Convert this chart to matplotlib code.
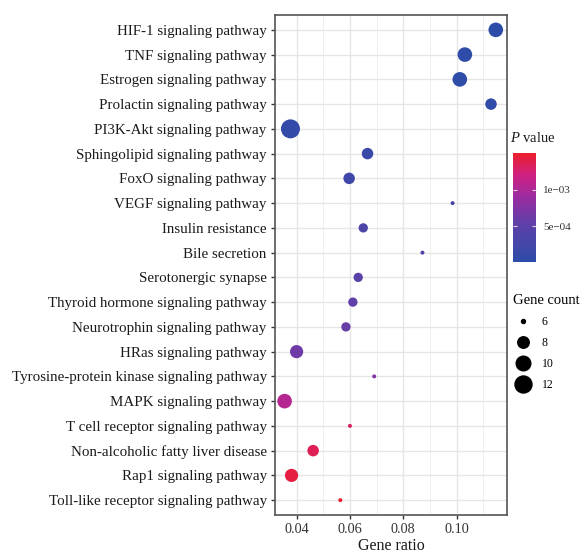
import numpy as np
import matplotlib.pyplot as plt
from matplotlib.colors import LinearSegmentedColormap, Normalize
from matplotlib.lines import Line2D
from matplotlib.ticker import FixedLocator

plt.rcParams['font.family'] = ['Liberation Serif', 'DejaVu Serif']
plt.rcParams['mathtext.fontset'] = 'custom'
plt.rcParams['mathtext.rm'] = 'Liberation Serif'
plt.rcParams['mathtext.it'] = 'Liberation Serif:italic'

pathways = [
    "HIF-1 signaling pathway",
    "TNF signaling pathway",
    "Estrogen signaling pathway",
    "Prolactin signaling pathway",
    "PI3K-Akt signaling pathway",
    "Sphingolipid signaling pathway",
    "FoxO signaling pathway",
    "VEGF signaling pathway",
    "Insulin resistance",
    "Bile secretion",
    "Serotonergic synapse",
    "Thyroid hormone signaling pathway",
    "Neurotrophin signaling pathway",
    "HRas signaling pathway",
    "Tyrosine-protein kinase signaling pathway",
    "MAPK signaling pathway",
    "T cell receptor signaling pathway",
    "Non-alcoholic fatty liver disease",
    "Rap1 signaling pathway",
    "Toll-like receptor signaling pathway",
]
gene_ratio = [0.1147, 0.1031, 0.1012, 0.1129, 0.0377, 0.0666, 0.0597, 0.0985,
              0.0650, 0.0872, 0.0631, 0.0611, 0.0585, 0.0400, 0.0691, 0.0355,
              0.0600, 0.0462, 0.0381, 0.0564]
gene_count = [10, 10, 10, 8, 14, 8, 8, 6, 7, 6, 7, 7, 7, 9, 6, 10, 6, 8, 9, 6]
p_value = [1.0e-5, 2.0e-5, 3.0e-5, 5.0e-5, 8.0e-5, 1.5e-4, 2.0e-4, 3.0e-4,
           3.5e-4, 4.0e-4, 4.8e-4, 5.3e-4, 5.8e-4, 6.3e-4, 7.5e-4, 1.05e-3,
           1.3e-3, 1.35e-3, 1.42e-3, 1.5e-3]
legend_counts = [6, 8, 10, 12]

DPI = 100
cmap = LinearSegmentedColormap.from_list(
    "pv", [(0.0, "#2D4CA8"), (0.35, "#5E40A8"), (0.6, "#9C2CA0"),
           (0.8, "#CF2080"), (1.0, "#EC1F2C")])


def size_pts2(c):
    # ggplot-like area scale: diameter grows with sqrt of count
    d_px = 4 + 15 * np.sqrt((np.asarray(c, float) - 6) / 8)
    return (d_px * 72 / DPI) ** 2


fig = plt.figure(figsize=(5.84, 5.56), dpi=DPI)
ax = fig.add_axes([275 / 584, 1 - 515 / 556, 232 / 584, 500 / 556])

y = np.arange(len(pathways))
norm = Normalize(vmin=min(p_value), vmax=max(p_value))
sc = ax.scatter(gene_ratio, y, s=size_pts2(gene_count), c=p_value,
                cmap=cmap, norm=norm, zorder=3, linewidths=0)

ax.set_xlim(0.0319, 0.1189)
ax.set_ylim(len(pathways) - 0.4, -0.6)
ax.set_yticks(y)
ax.set_yticklabels(pathways, fontsize=10.8, color="#1a1a1a")
ax.xaxis.set_major_locator(FixedLocator([0.04, 0.06, 0.08, 0.10]))
ax.set_xticklabels(["0.04", "0.06", "0.08", "0.10"], fontsize=10.3, color="#333333")
ax.xaxis.set_minor_locator(FixedLocator([0.03, 0.05, 0.07, 0.09, 0.11]))
ax.tick_params(which="major", length=3, width=1, color="#333333", pad=3)
ax.tick_params(which="minor", length=0)
ax.grid(which="major", color="#E6E6E6", lw=1.0, zorder=0)
ax.grid(which="minor", axis="x", color="#EDEDED", lw=0.6, zorder=0)
ax.set_axisbelow(True)
for sp in ax.spines.values():
    sp.set_color("#555555")
    sp.set_linewidth(1.2)
ax.set_xlabel("Gene ratio", fontsize=11.5, color="#1a1a1a", labelpad=1)

# colour bar for P value
cax = fig.add_axes([513 / 584, 1 - 262 / 556, 23 / 584, 109 / 556])
cb = fig.colorbar(sc, cax=cax, ticks=[5e-4, 1e-3])
cb.ax.set_yticklabels(["5e\u221204", "1e\u221203"], fontsize=8, color="#333333")
cb.ax.tick_params(length=3, color="#f0d0e0", width=0.8, direction="in",
                  left=True, right=True, pad=5)
cb.outline.set_visible(False)
fig.text(510 / 584, 1 - 138 / 556, r"$\it{P}$ value", fontsize=10.5,
         va="center", ha="left", color="#1a1a1a")

# legend for gene count
handles = [Line2D([], [], ls="none", marker="o", color="black",
                  markersize=np.sqrt(size_pts2(c)), label=str(c))
           for c in legend_counts]
leg = fig.legend(handles=handles, title="Gene count", loc="upper left",
                 bbox_to_anchor=(505 / 584, 1 - 286 / 556), frameon=False,
                 fontsize=8.5, title_fontsize=10.5, labelspacing=0.75,
                 handletextpad=0.8, handlelength=1.6, borderpad=0.2)
leg._legend_box.align = "left"

fig.savefig("out.png", dpi=DPI)
